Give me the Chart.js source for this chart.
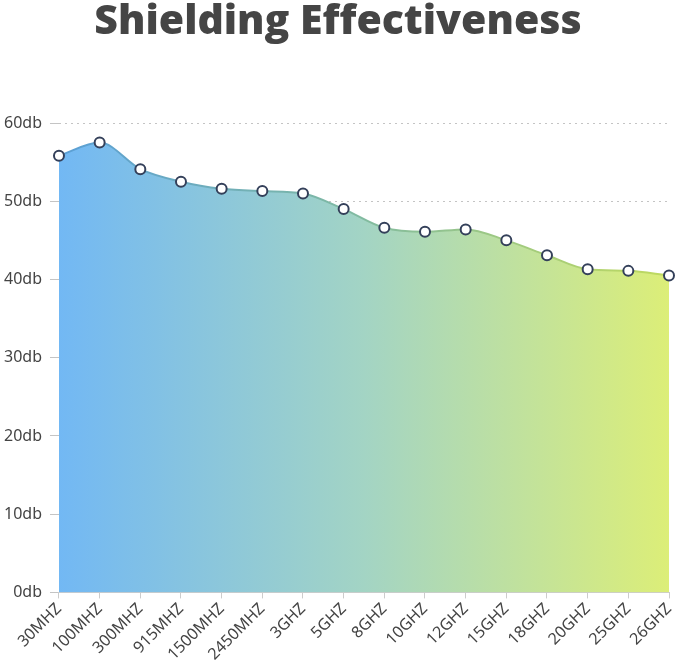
<!DOCTYPE html>
<html>
<head>
<meta charset="utf-8">
<script src="https://cdn.jsdelivr.net/npm/chart.js@4/dist/chart.umd.min.js"></script>
<style>
html,body{margin:0;padding:0;background:#fff;}
#wrap{width:679px;height:665px;position:relative;}
</style>
</head>
<body>
<div id="wrap"><canvas id="c" width="679" height="665"></canvas></div>
<script>
const chartTitle = "Shielding Effectiveness";
const categories = ["30MHZ","100MHZ","300MHZ","915MHZ","1500MHZ","2450MHZ","3GHZ","5GHZ","8GHZ","10GHZ","12GHZ","15GHZ","18GHZ","20GHZ","25GHZ","26GHZ"];
const effectivenessDb = [55.8,57.5,54.1,52.5,51.6,51.3,51.0,49.0,46.6,46.1,46.4,45.0,43.1,41.3,41.1,40.5];
const yTicks = [0,10,20,30,40,50,60];

function hGrad(ctx, area, c0, cm, c1){
  const g = ctx.createLinearGradient(area.left, 0, area.right, 0);
  g.addColorStop(0, c0);
  g.addColorStop(0.5, cm);
  g.addColorStop(1, c1);
  return g;
}

new Chart(document.getElementById('c'), {
  type: 'line',
  data: {
    labels: categories,
    datasets: [{
      data: effectivenessDb,
      fill: 'origin',
      cubicInterpolationMode: 'monotone',
      borderWidth: 2,
      backgroundColor: (ctx) => {
        const a = ctx.chart.chartArea; if (!a) return '#8cc8e0';
        return hGrad(ctx.chart.ctx, a, '#72b8f4', '#a3d4c4', '#dcee78');
      },
      borderColor: (ctx) => {
        const a = ctx.chart.chartArea; if (!a) return '#6aa8d0';
        return hGrad(ctx.chart.ctx, a, '#5a9fd6', '#82bba0', '#c0da5e');
      },
      pointRadius: 5,
      pointHoverRadius: 5,
      pointBorderWidth: 2,
      pointBackgroundColor: '#ffffff',
      pointBorderColor: '#34405a'
    }]
  },
  options: {
    responsive: false,
    animation: false,
    layout: { padding: { left: -4, right: -1, top: 0, bottom: 0 } },
    plugins: {
      legend: { display: false },
      tooltip: { enabled: false },
      title: {
        display: true,
        text: chartTitle,
        color: '#454545',
        font: { family: 'Open Sans', size: 41, weight: '800', lineHeight: 1.0 },
        padding: { top: 2, bottom: 80 }
      }
    },
    scales: {
      x: {
        offset: false,
        afterFit: (s) => { s.paddingRight = 10; },
        grid: { display: true, drawOnChartArea: false, drawTicks: true, tickLength: 6, color: '#cccccc' },
        border: { display: true, color: '#cccccc', width: 1 },
        ticks: {
          color: '#444',
          font: { family: 'Noto Sans', size: 16 },
          maxRotation: 45, minRotation: 45,
          autoSkip: false,
          padding: 1
        }
      },
      y: {
        min: 0, max: 60,
        afterBuildTicks: (s) => { s.ticks = yTicks.map(v => ({ value: v })); },
        grid: { color: '#c4c4c4', lineWidth: 1, tickLength: 9, drawTicks: true },
        border: { display: false, dash: [2, 4] },
        ticks: {
          color: '#444',
          font: { family: 'Noto Sans', size: 16 },
          padding: 8,
          callback: (v) => v + 'db'
        }
      }
    }
  }
});
</script>
</body>
</html>
